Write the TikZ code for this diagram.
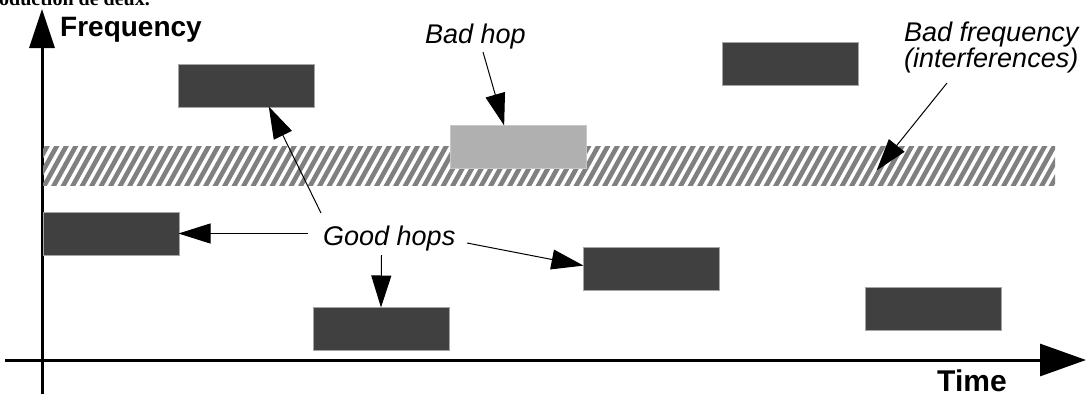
\documentclass[tikz,border=0pt]{standalone}
\usepackage{fontspec}
\setmainfont{Liberation Sans}
\newfontfamily\capserif{Liberation Serif}
\usetikzlibrary{arrows.meta}
\definecolor{hopdark}{RGB}{64,64,64}
\definecolor{hopedge}{RGB}{165,165,165}
\definecolor{hoplight}{RGB}{176,176,176}
\definecolor{hoplightedge}{RGB}{200,200,200}
\definecolor{hatchgrey}{RGB}{128,128,128}
\begin{document}
\begin{tikzpicture}[x=1pt,y=-1pt,
  hop/.style={draw=hopedge, line width=0.8pt, fill=hopdark, inner sep=0pt, outer sep=0pt,
    minimum width=136pt, minimum height=43pt, anchor=north west},
  badhopbox/.style={hop, draw=hoplightedge, fill=hoplight},
  lbl/.style={font=\fontsize{27}{25}\selectfont\itshape, inner sep=0pt},
  axlbl/.style={font=\fontsize{28}{28}\selectfont\bfseries, inner sep=0pt},
  ptr/.style={-{Triangle[length=32pt,width=20pt]}, line width=1pt, shorten >=-0.5pt},
  axis/.style={line width=3pt},
  hatchline/.style={line width=4.6pt, draw=hatchgrey}
]
\useasboundingbox (0,0) rectangle (1092,394);

% cropped caption text at the top edge
\begin{scope}
\clip (0,0) rectangle (1092,394);
\node[anchor=base east, inner sep=0pt, font=\capserif\bfseries\fontsize{20}{20}\selectfont] (cap) at (150,5) {oduction de deux.};
\end{scope}

% axes
\coordinate (yb) at (42,394);
\coordinate (yt) at (42,9);
\coordinate (xl) at (5,360);
\coordinate (xr) at (1086,360);
\draw[axis, -{Triangle[length=39pt,width=25pt]}] (yb) -- (yt);
\draw[axis, -{Triangle[length=46pt,width=32pt]}] (xl) -- (xr);
\node[axlbl, anchor=base west] (freq) at (60,36) {Frequency};
\node[axlbl, anchor=base west, font=\fontsize{30}{30}\selectfont\bfseries] (time) at (937,391) {Time};

% interference band
\node[anchor=north west, inner sep=0pt, outer sep=0pt, minimum width=1012pt, minimum height=39pt,
  path picture={
    \path (path picture bounding box.south west) coordinate (hsw);
    \foreach \i in {-4,...,108} {
      \draw[hatchline] ([xshift=\i*9.5pt, yshift=-3pt]hsw) -- ++(25,-45);
    }
  }] (band) at (43,146) {};

% hops
\node[hop] (A) at (178,64) {};
\node[hop] (B) at (722,42) {};
\node[hop] (L) at (43,212) {};
\node[hop] (M) at (583,247) {};
\node[hop] (R) at (865,287) {};
\node[hop] (D) at (313,307) {};
\node[badhopbox] (bad) at (450,125) {};

% labels
\node[lbl, anchor=base west] (badhop) at (425,43) {Bad hop};
\node[lbl, anchor=north west, align=left] (badfreq) at (904,22) {Bad frequency\\(interferences)};
\node[lbl, anchor=base west] (good) at (323,245) {Good hops};

% connector tails
\coordinate (t1) at (483,52);
\coordinate (t2) at (947,83);
\coordinate (tip2) at (877,170);
\coordinate (g1) at (308,233.5);
\coordinate (g2) at (321,213);
\coordinate (g3) at (381.5,255);
\coordinate (g4) at (467,243);

\draw[ptr] (t1) -- ([xshift=-14pt]bad.north);
\draw[ptr] (t2) -- (tip2);
\draw[ptr] (g1) -- (L.east);
\draw[ptr] (g2) -- ([xshift=23pt]A.south);
\draw[ptr] (g3) -- (D.north);
\draw[ptr] (g4) -- ([yshift=3pt]M.west);
\end{tikzpicture}
\end{document}
